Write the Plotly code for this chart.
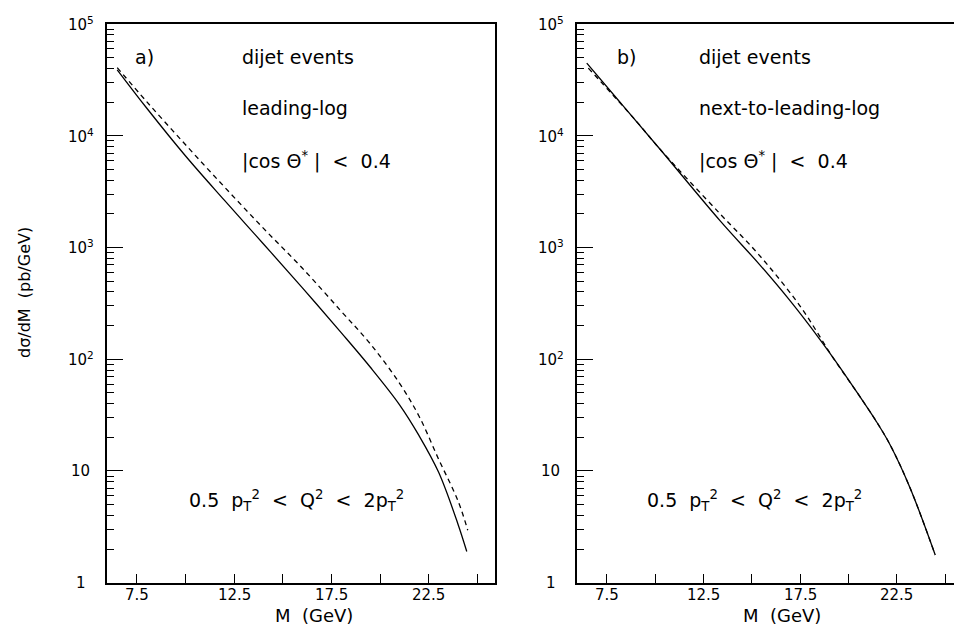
import math
import plotly.graph_objects as go

# ---- data ----
M_ll_solid = [6.5, 8, 10, 12, 14, 16, 18, 19.5, 21, 22, 23, 24, 24.45]
ll_solid = [38900, 17800, 6620, 2650, 1080, 437, 173, 84.7, 39.1, 20.7, 9.77, 3.34, 1.9]

M_ll_dash = [6.5, 8, 10, 12, 14, 16, 18, 19.5, 21, 22, 23, 24, 24.5]
ll_dash = [40700, 20300, 8340, 3490, 1490, 655, 269, 137, 60.8, 30.9, 12.8, 5.4, 2.95]

M_nll_solid = [6.47, 8.19, 10.26, 13.37, 15.43, 16.98, 18.53, 19.57, 20.50, 21.4, 22.16, 23.19, 24.49]
nll_solid = [44700, 19950, 7570, 1730, 696, 334, 150, 84.3, 48.9, 28.5, 17.1, 7.05, 1.77]

M_nll_dash = [6.55, 8.97, 10.26, 13.37, 15.33, 17.50, 19.21, 20.50, 21.4, 22.16, 23.19, 24.49]
nll_dash = [40300, 13900, 7570, 1995, 877, 299, 103, 48.9, 28.5, 17.1, 7.05, 1.77]

x_tickvals = [7.5, 10, 12.5, 15, 17.5, 20, 22.5, 25]
x_ticktext = ["7.5", "", "12.5", "", "17.5", "", "22.5", ""]
y_tickvals = [1, 10, 100, 1000, 10000, 100000]
y_ticktext = ["1", "10", "10<sup>2</sup>", "10<sup>3</sup>", "10<sup>4</sup>", "10<sup>5</sup>"]
y_minor = [m * 10 ** e for e in range(0, 5) for m in range(2, 10)]

W, H = 954, 632
FONT = "DejaVu Sans"

def px(x):
    return x / W

def py(y):
    return 1 - y / H

fig = go.Figure()
line_w = 1.3
SM = 1.0
fig.add_trace(go.Scatter(x=M_ll_solid, y=ll_solid, mode="lines", xaxis="x", yaxis="y",
                         line=dict(color="black", width=line_w, shape="spline", smoothing=SM)))
fig.add_trace(go.Scatter(x=M_ll_dash, y=ll_dash, mode="lines", xaxis="x", yaxis="y",
                         line=dict(color="black", width=line_w, dash="5px,4px", shape="spline", smoothing=SM)))
fig.add_trace(go.Scatter(x=M_nll_solid, y=nll_solid, mode="lines", xaxis="x2", yaxis="y2",
                         line=dict(color="black", width=line_w, shape="spline", smoothing=SM)))
fig.add_trace(go.Scatter(x=M_nll_dash, y=nll_dash, mode="lines", xaxis="x2", yaxis="y2",
                         line=dict(color="black", width=line_w, dash="5px,4px", shape="spline", smoothing=SM)))

L1, R1 = 106.7, 495.0
L2, R2 = 576.7, 954.0
TOP, BOT = 24.0, 582.7

common_x = dict(tickmode="array", tickvals=x_tickvals, ticktext=[""] * len(x_tickvals),
                ticks="inside", ticklen=9, tickwidth=1.3, tickcolor="black",
                showline=True, linecolor="black", linewidth=1.6, showgrid=False, zeroline=False)
common_y = dict(type="log", tickmode="array", tickvals=y_tickvals, ticktext=[""] * len(y_tickvals),
                ticks="inside", ticklen=16, tickwidth=1.3, tickcolor="black",
                showline=True, linecolor="black", linewidth=1.6, showgrid=False, zeroline=False,
                range=[0, 5],
                minor=dict(tickmode="array", tickvals=y_minor, ticks="inside", ticklen=7,
                           tickwidth=1.1, tickcolor="black", showgrid=False))

fig.update_layout(
    width=W, height=H, margin=dict(l=0, r=0, t=0, b=0),
    paper_bgcolor="white", plot_bgcolor="white", showlegend=False,
    font=dict(family=FONT, color="black"),
    xaxis=dict(domain=[px(L1), px(R1)], range=[5.96, 25.9], anchor="y", mirror=True, **common_x),
    yaxis=dict(domain=[py(BOT), py(TOP)], anchor="x", mirror=True, **common_y),
    xaxis2=dict(domain=[px(L2), px(R2)], range=[5.95, 25.46], anchor="y2", mirror=True, **common_x),
    yaxis2=dict(domain=[py(BOT), py(TOP)], anchor="x2", mirror=False, **common_y),
)

ann = []
# y tick labels
for v, t in zip(y_tickvals, y_ticktext):
    for xl, yr in ((L1, "y"), (L2, "y2")):
        ann.append(dict(text=t, x=px(xl - 26), xref="paper", y=math.log10(v), yref=yr,
                        xanchor="center", yanchor="middle", showarrow=False,
                        font=dict(family=FONT, size=15, color="black")))
# x tick labels
for v, t in zip(x_tickvals, x_ticktext):
    if not t:
        continue
    for xr in ("x", "x2"):
        ann.append(dict(text=t, x=v, xref=xr, y=py(595), yref="paper",
                        xanchor="center", yanchor="middle", showarrow=False,
                        font=dict(family=FONT, size=15, color="black")))

def txt(s, x, y, size=19, anchor="left"):
    ann.append(dict(text=s, x=px(x), y=py(y), xref="paper", yref="paper",
                    xanchor=anchor, yanchor="middle", showarrow=False,
                    font=dict(family=FONT, size=size, color="black")))

cos_txt = "|cos Θ<sup>*</sup> |  &lt;  0.4"
q_txt = "0.5  p<sub>T</sub><sup>2</sup>  &lt;  Q<sup>2</sup>  &lt;  2p<sub>T</sub><sup>2</sup>"

txt("a)", 133, 57)
txt("dijet events", 240, 57)
txt("leading-log", 240, 108)
txt(cos_txt, 240, 160)
txt(q_txt, 187, 500)

txt("b)", 615, 57)
txt("dijet events", 697, 57)
txt("next-to-leading-log", 697, 108)
txt(cos_txt, 697, 160)
txt(q_txt, 645, 500)

txt("M  (GeV)", 314, 615, size=18, anchor="center")
txt("M  (GeV)", 782, 615, size=18, anchor="center")

ann.append(dict(text="dσ/dM  (pb/GeV)", x=px(24), y=py(293), xref="paper", yref="paper",
                xanchor="center", yanchor="middle", showarrow=False, textangle=-90,
                font=dict(family=FONT, size=16, color="black")))

fig.update_layout(annotations=ann)
fig.write_html("out.html", config={"displayModeBar": False},
               post_script="document.body.style.margin='0px';document.body.style.overflow='hidden';")
